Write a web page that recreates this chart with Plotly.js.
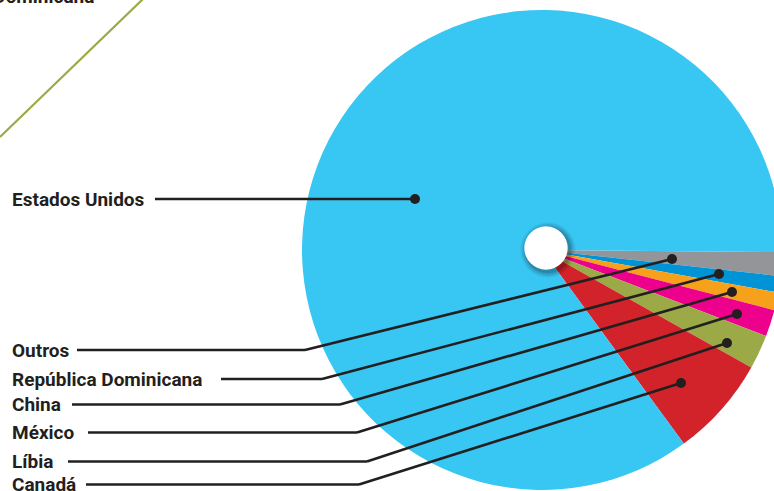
<!DOCTYPE html>
<html>
<head>
<meta charset="utf-8">
<script src="https://cdn.plot.ly/plotly-3.0.1.min.js"></script>
<style>
html,body{margin:0;padding:0;overflow:hidden;background:#fff;width:774px;height:491px;}
#chart{width:820px;height:491px;}
</style>
</head>
<body>
<div id="chart"></div>
<script>
// Data (share of total, %), clockwise from 3 o'clock
const categories = ["Outros", "República Dominicana", "China", "México", "Líbia", "Canadá", "Estados Unidos"];
const values = [1.6, 1.1, 1.2, 1.8, 2.3, 6.8, 85.2];
const colors = ["#939598", "#0093D6", "#F7A11A", "#EC008C", "#9BAA46", "#D2232A", "#38C6F3"];

const W = 820, H = 491;
const px = x => x / W;
const py = y => 1 - y / H;

// pie geometry (pixels)
const cx = 542, cy = 250, R = 240;

// label layout
const labelText = ["Estados Unidos", "Outros", "República Dominicana", "China", "México", "Líbia", "Canadá"];
const labelY    = [199, 350, 379, 404.5, 432.5, 461.5, 484.5];
const lineStart = [155, 77, 221, 72, 88, 68, 86];
const bendX     = [415, 305, 322, 340, 357, 367, 359];
const dotX      = [415, 672, 719, 732, 737, 727, 681];
const dotY      = [199, 259, 274, 292, 314, 343, 383];

const font = {family: "Roboto, 'Liberation Sans', sans-serif", size: 19, color: "#231F20"};

const shapes = [];
// hole shadow + hole
const hx = 546, hy = 248, hr = 21.7;
[[6, 0.05], [4.5, 0.07], [3, 0.09], [1.5, 0.12]].forEach(([g, a]) => {
  shapes.push({type: "circle", xref: "paper", yref: "paper",
    x0: px(hx - hr - g + 2), x1: px(hx + hr + g + 2), y0: py(hy + hr + g + 2), y1: py(hy - hr - g + 2),
    fillcolor: "rgba(0,0,0," + a + ")", line: {width: 0}});
});
shapes.push({type: "circle", xref: "paper", yref: "paper",
  x0: px(hx - hr), x1: px(hx + hr), y0: py(hy + hr), y1: py(hy - hr),
  fillcolor: "#ffffff", line: {width: 0}});

const lc = "#231F20";
for (let i = 0; i < labelText.length; i++) {
  shapes.push({type: "line", xref: "paper", yref: "paper",
    x0: px(lineStart[i]), y0: py(labelY[i]), x1: px(bendX[i]), y1: py(labelY[i]),
    line: {color: lc, width: 2.6}});
  shapes.push({type: "line", xref: "paper", yref: "paper",
    x0: px(bendX[i]), y0: py(labelY[i]), x1: px(dotX[i]), y1: py(dotY[i]),
    line: {color: lc, width: 2.6}});
  const r = 5;
  shapes.push({type: "circle", xref: "paper", yref: "paper",
    x0: px(dotX[i] - r), x1: px(dotX[i] + r), y0: py(dotY[i] + r), y1: py(dotY[i] - r),
    fillcolor: lc, line: {width: 0}});
}
// fragment of a neighbouring graphic (top-left)
shapes.push({type: "line", xref: "paper", yref: "paper",
  x0: px(0), y0: py(137), x1: px(143), y1: py(-1),
  line: {color: "#9BAA46", width: 2.2}});

const annotations = labelText.map((t, i) => ({
  text: "<b>" + t + "</b>", xref: "paper", yref: "paper",
  x: px(10), y: py(labelY[i]), xanchor: "left", yanchor: "middle",
  showarrow: false, font: font
}));
annotations.push({text: "<b>República Dominicana</b>", xref: "paper", yref: "paper",
  x: px(96), y: py(10.5), xanchor: "right", yanchor: "bottom",
  showarrow: false, font: font});

const trace = {
  type: "pie",
  labels: categories,
  values: values,
  sort: false,
  direction: "clockwise",
  rotation: 90.5,
  marker: {colors: colors, line: {width: 0}},
  textinfo: "none",
  hoverinfo: "none",
  domain: {x: [px(cx - R), px(cx + R)], y: [py(cy + R), py(cy - R)]}
};

Plotly.newPlot("chart", [trace], {
  width: W, height: H,
  margin: {l: 0, r: 0, t: 0, b: 0},
  showlegend: false,
  paper_bgcolor: "#ffffff",
  shapes: shapes,
  annotations: annotations
}, {staticPlot: true});
</script>
</body>
</html>
